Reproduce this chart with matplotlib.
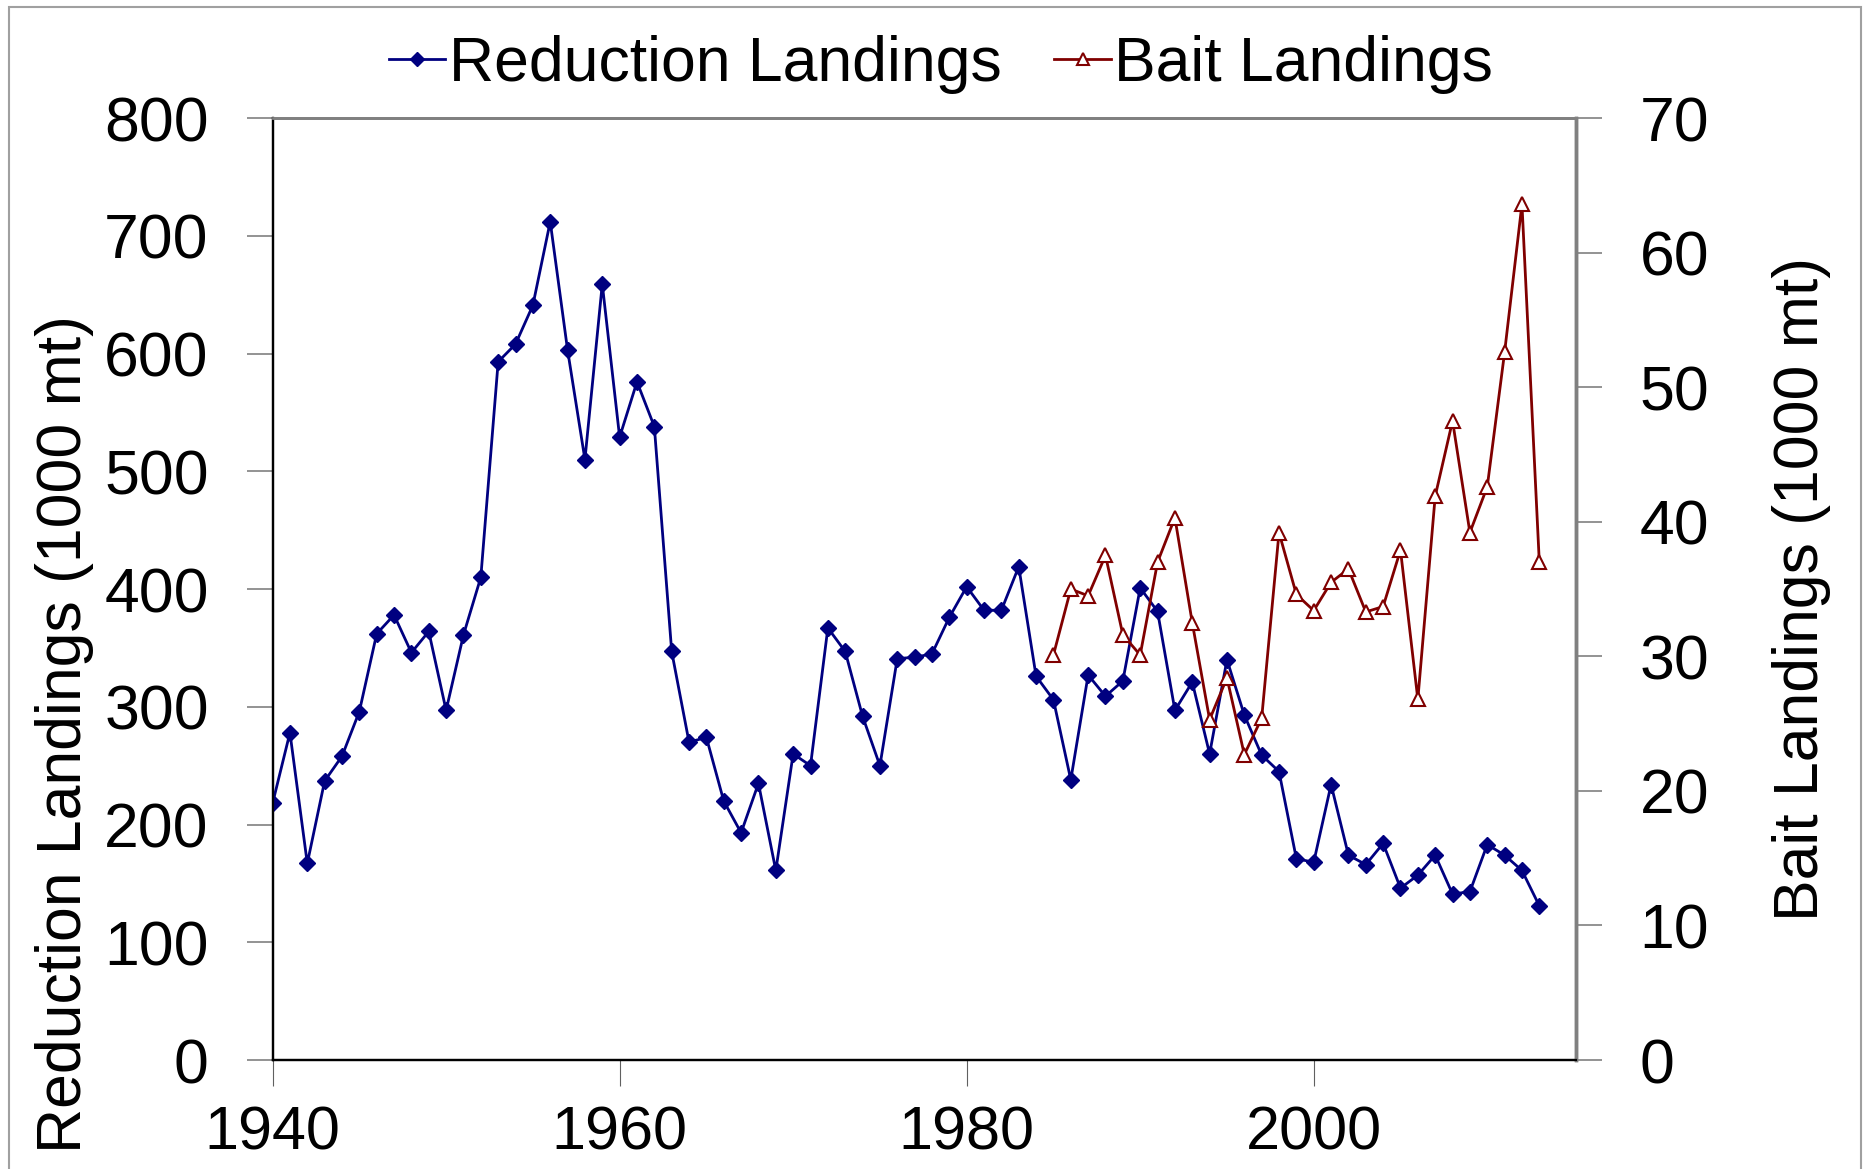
import matplotlib
matplotlib.use("Agg")
import matplotlib.pyplot as plt
from matplotlib.patches import Rectangle

plt.rcParams['font.family'] = ['Liberation Sans', 'DejaVu Sans']

red_years = list(range(1940, 2014))
reduction = [218, 278, 167, 237, 258, 296, 362, 378, 346, 364,
             297, 361, 410, 593, 608, 641, 712, 603, 510, 659,
             529, 576, 538, 347, 270, 274, 220, 193, 235, 161,
             260, 250, 367, 347, 292, 250, 341, 342, 345, 376,
             402, 382, 382, 419, 326, 306, 238, 327, 309, 322,
             401, 381, 297, 321, 260, 340, 293, 259, 245, 171,
             168, 234, 174, 166, 184, 146, 157, 174, 141, 143,
             183, 174, 161, 131]
bait_years = list(range(1985, 2014))
bait = [30.1, 35.0, 34.5, 37.5, 31.6, 30.1, 37.0, 40.3, 32.5, 25.3,
        28.4, 22.7, 25.4, 39.2, 34.6, 33.4, 35.5, 36.5, 33.3, 33.7,
        37.9, 26.8, 41.9, 47.5, 39.2, 42.6, 52.6, 63.6, 37.0]
x_ticks = [1940, 1960, 1980, 2000]
left_ticks = [0, 100, 200, 300, 400, 500, 600, 700, 800]
right_ticks = [0, 10, 20, 30, 40, 50, 60, 70]

FS = 45
fig = plt.figure(figsize=(18.67, 11.69), dpi=100)
ax = fig.add_axes([0.146, 0.0932, 0.844 - 0.146, 0.899 - 0.0932])
ax2 = ax.twinx()

l1, = ax.plot(red_years, reduction, color='#000080', lw=2.0, marker='D',
              markersize=8.3, markerfacecolor='#000080', markeredgecolor='#000080', zorder=3)
l2, = ax2.plot(bait_years, bait, color='#800000', lw=2.0, marker='^',
               markersize=10.5, markerfacecolor='white', markeredgecolor='#800000',
               markeredgewidth=1.5, zorder=3)

ax.set_xlim(1940, 2015.1)
ax.set_ylim(0, 800)
ax2.set_ylim(0, 70)
ax.set_xticks(x_ticks)
ax.set_yticks(left_ticks)
ax2.set_yticks(right_ticks)

ax.tick_params(axis='y', direction='out', length=19, width=1.2, color='#808080',
               labelsize=FS, pad=27)
ax.tick_params(axis='x', direction='out', length=19, width=0.8, color='#606060',
               labelsize=44, pad=14)
ax2.tick_params(axis='y', direction='out', length=19, width=1.2, color='#808080',
                labelsize=FS, pad=27)

for a in (ax, ax2):
    a.spines['top'].set_color('#808080')
    a.spines['top'].set_linewidth(2)
    a.spines['right'].set_color('#808080')
    a.spines['right'].set_linewidth(2.5)
    a.spines['left'].set_color('black')
    a.spines['left'].set_linewidth(1.6)
    a.spines['bottom'].set_color('black')
    a.spines['bottom'].set_linewidth(1.6)

fig.text(0.0348, 0.372, 'Reduction Landings (1000 mt)', rotation=90,
         ha='center', va='center', fontsize=FS)
fig.text(0.965, 0.496, 'Bait Landings (1000 mt)', rotation=90,
         ha='center', va='center', fontsize=FS)

fig.legend([l1, l2], ['Reduction Landings', 'Bait Landings'], loc='center',
           bbox_to_anchor=(0.504, 0.945), ncol=2, frameon=False, fontsize=FS,
           handlelength=0.9, handletextpad=0.05, columnspacing=0.85,
           borderaxespad=0, borderpad=0, markerscale=0.8)

fig.patches.append(Rectangle((0.005, -0.01), 0.992, 1.004, transform=fig.transFigure,
                             fill=False, edgecolor='#a0a0a0', lw=1.5))

fig.savefig('out.png', dpi=100, facecolor='white')
